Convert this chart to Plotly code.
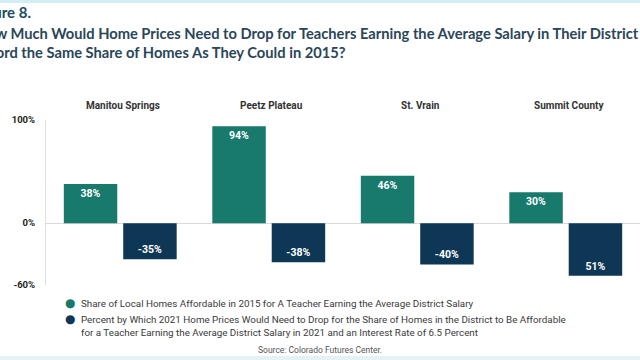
import plotly.graph_objects as go

districts = ["Manitou Springs", "Peetz Plateau", "St. Vrain", "Summit County"]
share_2015 = [38, 94, 46, 30]
price_drop = [-35, -38, -40, -51]
share_labels = ["38%", "94%", "46%", "30%"]
drop_labels = ["-35%", "-38%", "-40%", "51%"]
series_names = [
    "Share of Local Homes Affordable in 2015 for A Teacher Earning the Average District Salary",
    "Percent by Which 2021 Home Prices Would Need to Drop for the Share of Homes in the District to Be Affordable<br>for a Teacher Earning the Average District Salary in 2021 and an Interest Rate of 6.5 Percent",
]
y_tickvals = [-60, 0, 100]
y_ticktext = ["-60%", "0%", "100%"]

GREEN = "#18796d"
NAVY = "#0e3756"
NARROW = "Roboto, Liberation Sans, sans-serif"
TITLE_FONT = "Lato, Open Sans, sans-serif"

W, H = 640, 360
ML, MR, MT, MB = 46, 0, 120, 75
PH = H - MT - MB


def py(p):
    """pixel y -> paper y"""
    return (H - MB - p) / PH


def px(p):
    return (p - ML) / (W - ML - MR)


fig = go.Figure()
fig.add_trace(go.Bar(
    x=districts, y=share_2015, text=share_labels, name="share",
    marker=dict(color=GREEN, line=dict(width=0)),
    textposition="inside", insidetextanchor="end", textangle=0,
    textfont=dict(color="white", size=10.5, family=NARROW, weight="bold"),
    showlegend=False, cliponaxis=False,
))
fig.add_trace(go.Bar(
    x=districts, y=price_drop, text=drop_labels, name="drop",
    marker=dict(color=NAVY, line=dict(width=0)),
    textposition="inside", insidetextanchor="end", textangle=0,
    textfont=dict(color="white", size=10.5, family=NARROW, weight="bold"),
    showlegend=False, cliponaxis=False,
))

annotations = []
# category headers
for d in districts:
    annotations.append(dict(
        x=d, xref="x", y=py(105), yref="paper", yanchor="middle", text=d, showarrow=False,
        xshift=3, font=dict(size=10, color="#333333", family=NARROW, weight="bold"),
    ))
# titles (partly cropped at left like the reference)
annotations.append(dict(
    x=px(-29), xref="paper", y=py(12), yref="paper", xanchor="left", yanchor="middle",
    text="Figure 8.", showarrow=False,
    font=dict(size=15, color="#1d4a5c", family=TITLE_FONT, weight="bold"),
))
annotations.append(dict(
    x=px(-26), xref="paper", y=py(33), yref="paper", xanchor="left", yanchor="middle",
    text="How Much Would Home Prices Need to Drop for Teachers Earning the Average Salary in Their District to",
    showarrow=False,
    font=dict(size=14.7, color="#2a4658", family=TITLE_FONT, weight="bold"),
))
annotations.append(dict(
    x=px(-27), xref="paper", y=py(52), yref="paper", xanchor="left", yanchor="middle",
    text="Afford the Same Share of Homes As They Could in 2015?",
    showarrow=False,
    font=dict(size=14.7, color="#2a4658", family=TITLE_FONT, weight="bold"),
))
# legend
leg_rows = [303, 319]
for name, color, row in zip(series_names, [GREEN, NAVY], leg_rows):
    annotations.append(dict(
        x=px(70), xref="paper", y=py(row), yref="paper", xanchor="center", yanchor="middle",
        text="●", showarrow=False, font=dict(size=12, color=color, family="DejaVu Sans"),
    ))
    annotations.append(dict(
        x=px(79), xref="paper", y=py(row - 7), yref="paper", xanchor="left", yanchor="top",
        text=name, showarrow=False, align="left",
        font=dict(size=9.8, color="#3a3a3a", family=NARROW),
    ))
annotations.append(dict(
    x=px(320), xref="paper", y=py(350), yref="paper", xanchor="center", yanchor="middle",
    text="Source: Colorado Futures Center.", showarrow=False,
    font=dict(size=8.5, color="#555555", family=NARROW),
))

shapes = [
    dict(type="rect", xref="paper", yref="paper", x0=px(0), x1=px(640), y0=py(3), y1=py(0),
         fillcolor="#d3eef3", line=dict(width=0), layer="below"),
    dict(type="rect", xref="paper", yref="paper", x0=px(0), x1=px(640), y0=py(360), y1=py(356),
         fillcolor="#e3f3f5", line=dict(width=0), layer="below"),
]

fig.update_layout(
    width=W, height=H, margin=dict(l=ML, r=MR, t=MT, b=MB),
    paper_bgcolor="white", plot_bgcolor="white",
    barmode="group", bargap=0.2, bargroupgap=0.1,
    annotations=annotations, shapes=shapes,
    xaxis=dict(showticklabels=False, showgrid=False, zeroline=False, showline=False, ticks=""),
    yaxis=dict(
        range=[-60, 100], tickvals=y_tickvals, ticktext=y_ticktext,
        showgrid=True, gridcolor="#cfcfcf", griddash="dot", gridwidth=1,
        zeroline=True, zerolinecolor="#d9d9d9", zerolinewidth=1,
        showline=True, linecolor="#e0e0e0", linewidth=1,
        ticks="", ticklabelstandoff=8,
        tickfont=dict(size=9.5, color="#222222", family=NARROW, weight="bold"),
    ),
    showlegend=False,
)

fig.write_html("out.html", config={"displayModeBar": False},
               post_script="document.body.style.margin='0';")
